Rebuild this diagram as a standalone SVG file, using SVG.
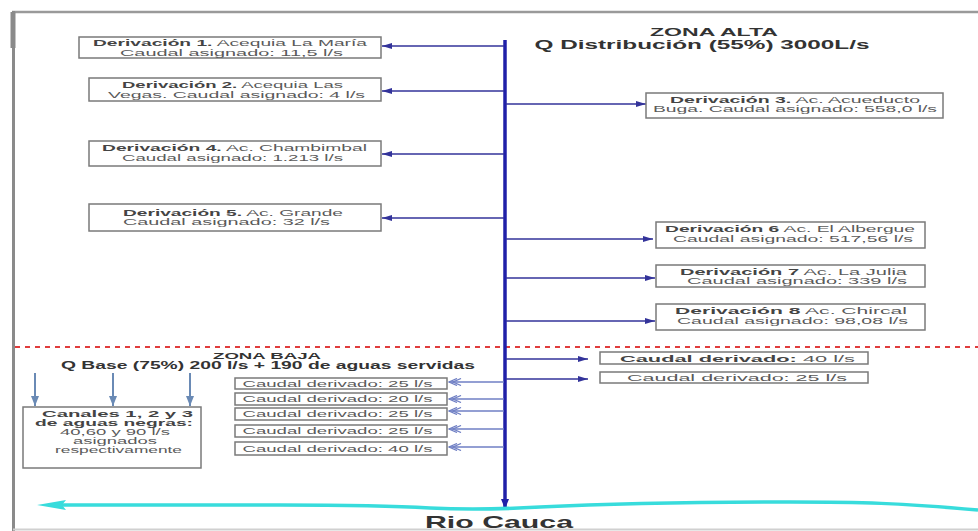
<svg xmlns="http://www.w3.org/2000/svg" width="978" height="531" viewBox="0 0 978 531">
<defs>
<style>
.box{fill:#fff;stroke:#7a7a7a;stroke-width:1.5}
.t{font-family:"Liberation Sans",Arial,sans-serif;font-size:8.5px;fill:#5a5a5a;text-anchor:middle}
.b{font-weight:bold;fill:#444}
.h{font-family:"Liberation Sans",Arial,sans-serif;font-weight:bold;fill:#333;text-anchor:middle}
.br{stroke:#33339a;stroke-width:1.6;fill:none}
.brl{stroke:#6f7fc4;stroke-width:1.6;fill:none}
.dn{stroke:#6a8ab5;stroke-width:2;fill:none}
</style>
<marker id="ah" markerUnits="userSpaceOnUse" markerWidth="10" markerHeight="6" refX="10" refY="3" orient="auto">
<path d="M0,0 L10,3 L0,6 z" fill="#33339a"/>
</marker>
<marker id="ahl" markerUnits="userSpaceOnUse" markerWidth="14" markerHeight="8" refX="13" refY="4" orient="auto">
<path d="M5,0.5 L13,4 L5,7.5 M1,0.5 L9,4 L1,7.5" fill="none" stroke="#6f7fc4" stroke-width="1.3"/>
</marker>
<marker id="ahm" markerUnits="userSpaceOnUse" markerWidth="10" markerHeight="8" refX="10" refY="4" orient="auto">
<path d="M0,0 L10,4 L0,8 z" fill="#2020a8"/>
</marker>
<marker id="ahd" markerUnits="userSpaceOnUse" markerWidth="10" markerHeight="8" refX="10" refY="4" orient="auto">
<path d="M0,0 L10,4 L0,8 z" fill="#6a8ab5"/>
</marker>
</defs>
<rect x="0" y="0" width="978" height="531" fill="#fff"/>
<g id="frame">
<line x1="12" y1="12" x2="978" y2="12" stroke="#9a9a9a" stroke-width="2.5"/>
<line x1="13.5" y1="11" x2="13.5" y2="531" stroke="#8a8a8a" stroke-width="3"/>
<line x1="13" y1="12" x2="13" y2="48" stroke="#8a8a8a" stroke-width="5"/>
<line x1="13" y1="529.5" x2="978" y2="529.5" stroke="#d0d0d0" stroke-width="2"/>
<line x1="15" y1="347" x2="978" y2="347" stroke="#e03c3c" stroke-width="2" stroke-dasharray="5,5"/>
</g>
<g id="headers">
<text class="h" x="714" y="36" font-size="10.5" textLength="128" lengthAdjust="spacingAndGlyphs">ZONA ALTA</text>
<text class="h" x="702" y="48.5" font-size="12" textLength="335" lengthAdjust="spacingAndGlyphs">Q Distribución (55%) 3000L/s</text>
<text class="h" x="267" y="358.5" font-size="9.5" textLength="108" lengthAdjust="spacingAndGlyphs">ZONA BAJA</text>
<text class="h" x="268" y="369" font-size="10" textLength="414" lengthAdjust="spacingAndGlyphs">Q Base (75%) 200 l/s + 190 de aguas servidas</text>
</g>
<g id="connectors">
<line x1="505" y1="40" x2="505" y2="509" stroke="#2020a8" stroke-width="3.5" marker-end="url(#ahm)"/>
<line class="br" x1="504" y1="46" x2="382" y2="46" marker-end="url(#ah)"/>
<line class="br" x1="504" y1="91" x2="382" y2="91" marker-end="url(#ah)"/>
<line class="br" x1="504" y1="154" x2="382" y2="154" marker-end="url(#ah)"/>
<line class="br" x1="504" y1="218" x2="382" y2="218" marker-end="url(#ah)"/>
<line class="br" x1="506" y1="104" x2="646" y2="104" marker-end="url(#ah)"/>
<line class="br" x1="506" y1="239" x2="653" y2="239" marker-end="url(#ah)"/>
<line class="br" x1="506" y1="278" x2="655" y2="278" marker-end="url(#ah)"/>
<line class="br" x1="506" y1="321" x2="655" y2="321" marker-end="url(#ah)"/>
<line class="br" x1="506" y1="359" x2="588" y2="359" marker-end="url(#ah)"/>
<line class="br" x1="506" y1="379" x2="588" y2="379" marker-end="url(#ah)"/>
<line class="brl" x1="504" y1="382" x2="449" y2="382" marker-end="url(#ahl)"/>
<line class="brl" x1="504" y1="399" x2="449" y2="399" marker-end="url(#ahl)"/>
<line class="brl" x1="504" y1="411" x2="449" y2="411" marker-end="url(#ahl)"/>
<line class="brl" x1="504" y1="429" x2="449" y2="429" marker-end="url(#ahl)"/>
<line class="brl" x1="504" y1="447" x2="449" y2="447" marker-end="url(#ahl)"/>
<line class="dn" x1="35" y1="373" x2="35" y2="406" marker-end="url(#ahd)"/>
<line class="dn" x1="113" y1="373" x2="113" y2="406" marker-end="url(#ahd)"/>
<line class="dn" x1="190" y1="373" x2="190" y2="406" marker-end="url(#ahd)"/>
</g>
<g id="river">
<path d="M978,510 C900,503 860,502 790,502 C690,502 600,504 540,507 C505,509 470,510 430,508 C380,505 330,505 280,505 L62,505" fill="none" stroke="#38dcdc" stroke-width="3.5"/>
<path d="M37,505 L66,500 L62,505 L66,510 z" fill="#38dcdc"/>
<text class="h" x="499" y="528" font-size="17" fill="#222" textLength="148" lengthAdjust="spacingAndGlyphs">Rio Cauca</text>
</g>
<g id="d1">
<rect class="box" x="79" y="37" width="302" height="21"/>
<text class="t" x="230" y="46" textLength="274" lengthAdjust="spacingAndGlyphs"><tspan class="b">Derivación 1.</tspan> Acequia La María</text>
<text class="t" x="231.5" y="55.5" textLength="223" lengthAdjust="spacingAndGlyphs">Caudal asignado: 11,5 l/s</text>
</g>
<g id="d2">
<rect class="box" x="89" y="78" width="292" height="23"/>
<text class="t" x="232.5" y="88" textLength="221" lengthAdjust="spacingAndGlyphs"><tspan class="b">Derivación 2.</tspan> Acequia Las</text>
<text class="t" x="236.5" y="97.5" textLength="257" lengthAdjust="spacingAndGlyphs">Vegas. Caudal asignado: 4 l/s</text>
</g>
<g id="d4">
<rect class="box" x="89" y="141" width="292" height="25"/>
<text class="t" x="234.5" y="150.5" textLength="265" lengthAdjust="spacingAndGlyphs"><tspan class="b">Derivación 4.</tspan> Ac. Chambimbal</text>
<text class="t" x="232.5" y="160.5" textLength="221" lengthAdjust="spacingAndGlyphs">Caudal asignado: 1.213 l/s</text>
</g>
<g id="d5">
<rect class="box" x="89" y="204" width="292" height="27"/>
<text class="t" x="233" y="215.5" textLength="220" lengthAdjust="spacingAndGlyphs"><tspan class="b">Derivación 5.</tspan> Ac. Grande</text>
<text class="t" x="226.5" y="224.5" textLength="207" lengthAdjust="spacingAndGlyphs">Caudal asignado: 32 l/s</text>
</g>
<g id="d3">
<rect class="box" x="646" y="93" width="297" height="25"/>
<text class="t" x="795" y="102.5" textLength="250" lengthAdjust="spacingAndGlyphs"><tspan class="b">Derivación 3.</tspan> Ac. Acueducto</text>
<text class="t" x="795" y="112" textLength="284" lengthAdjust="spacingAndGlyphs">Buga. Caudal asignado: 558,0 l/s</text>
</g>
<g id="d6">
<rect class="box" x="656" y="222" width="269" height="26"/>
<text class="t" x="790" y="231.5" textLength="250" lengthAdjust="spacingAndGlyphs"><tspan class="b">Derivación 6</tspan> Ac. El Albergue</text>
<text class="t" x="793" y="241.5" textLength="240" lengthAdjust="spacingAndGlyphs">Caudal asignado: 517,56 l/s</text>
</g>
<g id="d7">
<rect class="box" x="656" y="265" width="269" height="22"/>
<text class="t" x="793.5" y="274.5" textLength="227" lengthAdjust="spacingAndGlyphs"><tspan class="b">Derivación 7</tspan> Ac. La Julia</text>
<text class="t" x="797" y="284" textLength="220" lengthAdjust="spacingAndGlyphs">Caudal asignado: 339 l/s</text>
</g>
<g id="d8">
<rect class="box" x="656" y="304" width="269" height="26"/>
<text class="t" x="791" y="313.5" textLength="232" lengthAdjust="spacingAndGlyphs"><tspan class="b">Derivación 8</tspan> Ac. Chircal</text>
<text class="t" x="792.5" y="323.5" textLength="231" lengthAdjust="spacingAndGlyphs">Caudal asignado: 98,08 l/s</text>
</g>
<g id="r1">
<rect class="box" x="600" y="352" width="268" height="12"/>
<text class="t" x="737.5" y="361.5" font-size="10.5" textLength="235" lengthAdjust="spacingAndGlyphs"><tspan class="b">Caudal derivado:</tspan> 40 l/s</text>
</g>
<g id="r2">
<rect class="box" x="600" y="372" width="268" height="11"/>
<text class="t" x="737" y="381" font-size="9.5" textLength="220" lengthAdjust="spacingAndGlyphs">Caudal derivado: 25 l/s</text>
</g>
<g id="l1">
<rect class="box" x="235" y="378" width="212" height="11"/>
<text class="t" x="337.5" y="386.5" font-size="9" textLength="190" lengthAdjust="spacingAndGlyphs">Caudal derivado: 25 l/s</text>
</g>
<g id="l2">
<rect class="box" x="235" y="393" width="212" height="12"/>
<text class="t" x="337.5" y="402" font-size="9" textLength="190" lengthAdjust="spacingAndGlyphs">Caudal derivado: 20 l/s</text>
</g>
<g id="l3">
<rect class="box" x="235" y="408" width="212" height="12"/>
<text class="t" x="337.5" y="417" font-size="9" textLength="190" lengthAdjust="spacingAndGlyphs">Caudal derivado: 25 l/s</text>
</g>
<g id="l4">
<rect class="box" x="235" y="425" width="212" height="12"/>
<text class="t" x="337.5" y="434" font-size="9" textLength="190" lengthAdjust="spacingAndGlyphs">Caudal derivado: 25 l/s</text>
</g>
<g id="l5">
<rect class="box" x="235" y="442" width="212" height="13"/>
<text class="t" x="337.5" y="451.5" font-size="9" textLength="190" lengthAdjust="spacingAndGlyphs">Caudal derivado: 40 l/s</text>
</g>
<g id="canales">
<rect class="box" x="23" y="407" width="178" height="61"/>
<text class="t b" x="117.5" y="416.5" font-size="9" textLength="151" lengthAdjust="spacingAndGlyphs">Canales 1, 2 y 3</text>
<text class="t b" x="114" y="425.5" font-size="9" textLength="158" lengthAdjust="spacingAndGlyphs">de aguas negras:</text>
<text class="t" x="115" y="434.5" font-size="9" textLength="110" lengthAdjust="spacingAndGlyphs">40,60 y 90 l/s</text>
<text class="t" x="115" y="443.5" font-size="9" textLength="84" lengthAdjust="spacingAndGlyphs">asignados</text>
<text class="t" x="118.5" y="452.5" font-size="9" textLength="127" lengthAdjust="spacingAndGlyphs">respectivamente</text>
</g>
</svg>
